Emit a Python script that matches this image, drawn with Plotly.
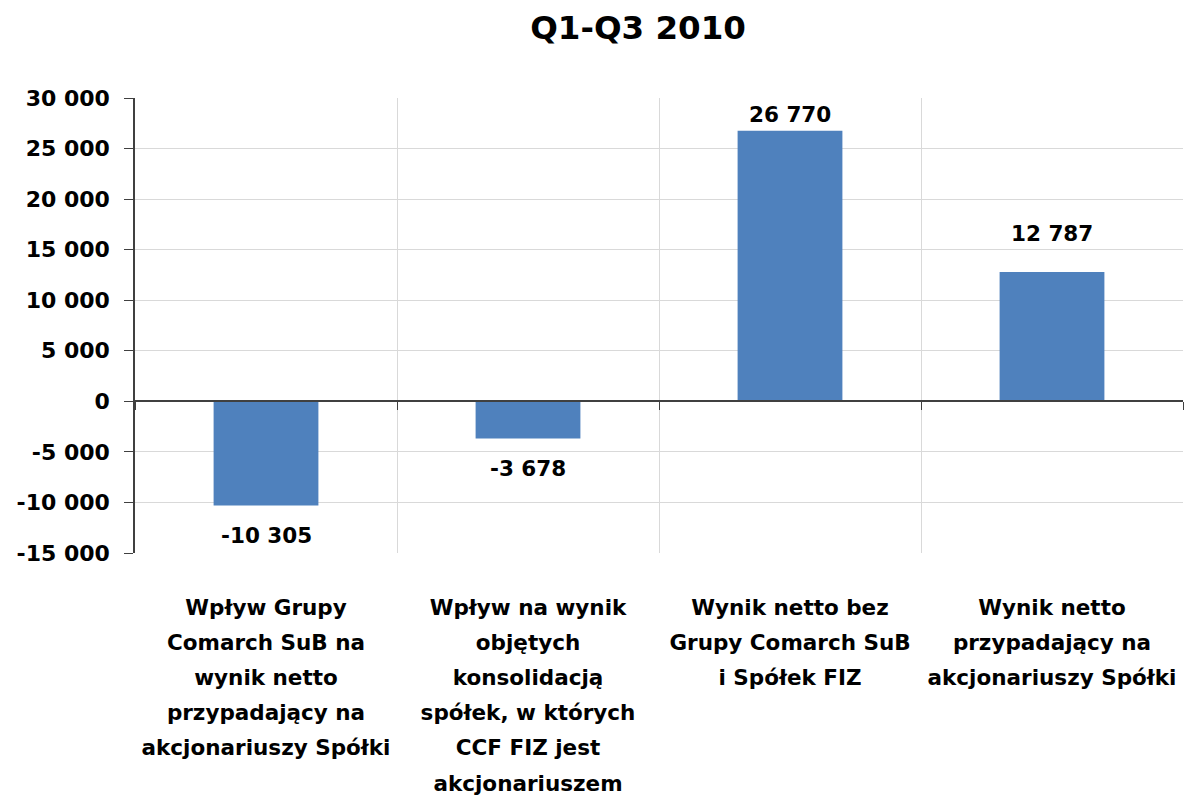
import plotly.graph_objects as go

title = "Q1-Q3 2010"
categories = [
    ["Wpływ Grupy", "Comarch SuB na", "wynik netto", "przypadający na", "akcjonariuszy Spółki"],
    ["Wpływ na wynik", "objętych", "konsolidacją", "spółek, w których", "CCF FIZ jest", "akcjonariuszem"],
    ["Wynik netto bez", "Grupy Comarch SuB", "i Spółek FIZ"],
    ["Wynik netto", "przypadający na", "akcjonariuszy Spółki"],
]
values = [-10305, -3678, 26770, 12787]
value_labels = ["-10 305", "-3 678", "26 770", "12 787"]
y_ticks = [-15000, -10000, -5000, 0, 5000, 10000, 15000, 20000, 25000, 30000]
y_tick_labels = ["-15 000", "-10 000", "-5 000", "0", "5 000", "10 000", "15 000", "20 000", "25 000", "30 000"]

# style: pixel offsets of the value labels from the bar ends
label_shift = [-30, -30, 16, 39]

FONT = "DejaVu Sans"
cat_keys = [" ".join(c) for c in categories]
cat_text = ["<br>".join('<span style="font-size:21.5px">%s</span>' % line for line in c) for c in categories]

fig = go.Figure()
fig.add_trace(go.Bar(
    x=cat_keys, y=values, width=0.4,
    marker=dict(color="#4F81BD", line=dict(width=0)),
    hoverinfo="skip",
))
fig.add_trace(go.Scatter(
    x=cat_keys, y=values, xaxis="x2", mode="markers",
    marker=dict(opacity=0), hoverinfo="skip", showlegend=False,
))
for k, v, t, s in zip(cat_keys, values, value_labels, label_shift):
    fig.add_annotation(x=k, y=v, text=t, showarrow=False, yanchor="middle", yshift=s,
                       font=dict(family=FONT, size=21.5, color="#000000", weight="bold"))

fig.update_layout(
    width=1184, height=801,
    margin=dict(l=135, r=1, t=98, b=248),
    paper_bgcolor="white", plot_bgcolor="white",
    showlegend=False,
    font=dict(family=FONT, color="#000000", weight="bold"),
    title=dict(text=title, x=0.48, xref="paper", y=0.966, yanchor="middle",
               font=dict(family=FONT, size=32.5, color="#000000", weight="bold")),
    xaxis=dict(
        type="category", range=[-0.5, 3.5], tickson="boundaries",
        tickvals=cat_keys, ticktext=cat_text, tickangle=0,
        showgrid=True, gridcolor="#d9d9d9", gridwidth=1,
        ticks="", showline=False, zeroline=False, automargin=False,
        tickfont=dict(family=FONT, size=27, color="#000000", weight="bold"),
        ticklabelstandoff=34,
    ),
    xaxis2=dict(
        type="category", range=[-0.5, 3.5], overlaying="x", anchor="free",
        position=1/3, side="bottom", tickson="boundaries", automargin=False,
        ticks="outside", ticklen=8, tickcolor="#404040",
        showline=True, linecolor="#404040", linewidth=1.5,
        showticklabels=False, showgrid=False, zeroline=False,
    ),
    yaxis=dict(
        range=[-15000, 30000], tickvals=y_ticks, ticktext=y_tick_labels,
        showgrid=True, gridcolor="#d9d9d9", gridwidth=1, automargin=False,
        showline=True, linecolor="#404040", linewidth=1.5,
        ticks="outside", ticklen=9, tickcolor="#404040",
        zeroline=False, ticklabelstandoff=10,
        tickfont=dict(family=FONT, size=22, color="#000000", weight="bold"),
    ),
)

fig.write_html("out.html", config={"displayModeBar": False},
               post_script="document.body.style.margin='0';document.body.style.overflow='hidden';")
